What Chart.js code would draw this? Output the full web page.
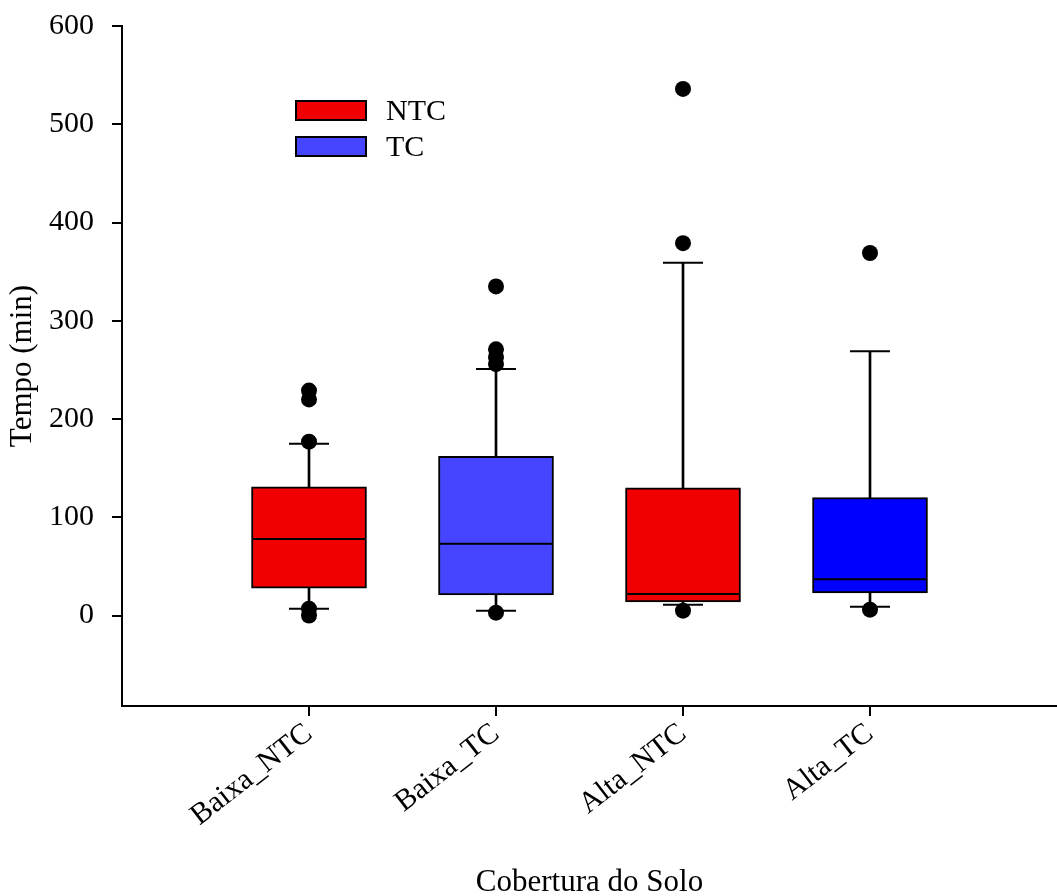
<!DOCTYPE html>
<html lang="pt">
<head>
<meta charset="UTF-8">
<title>Tempo por Cobertura do Solo</title>
<script src="https://cdn.jsdelivr.net/npm/chart.js"></script>
<style>
  body { margin: 0; background: #fff; }
  #wrap { position: relative; width: 1057px; height: 896px; }
  #legend {
    position: absolute; left: 295px; top: 92px;
    font: 30px 'Liberation Serif', 'Times New Roman', serif; color: #000;
  }
  #legend .item { display: flex; align-items: center; height: 36px; line-height: 36px; }
  #legend .sw { width: 68px; height: 17px; border: 2px solid #000; margin-right: 19px; }
</style>
</head>
<body>
<div id="wrap">
  <canvas id="boxChart"></canvas>
  <div id="legend">
    <div class="item"><span class="sw" style="background:#f00000"></span>NTC</div>
    <div class="item"><span class="sw" style="background:#4545ff"></span>TC</div>
  </div>
</div>
<script>
  // box plot summaries per group (tempo em minutos)
  const categories = ['Baixa_NTC', 'Baixa_TC', 'Alta_NTC', 'Alta_TC'];
  const q1 = [28, 21, 14, 23];
  const medians = [78, 73, 22, 37];
  const q3 = [131, 162, 130, 120];
  const whiskerLow = [7, 5, 11, 9];
  const whiskerHigh = [175, 251, 359, 269];
  const outliers = [
    [229, 220, 177, 7, 0],
    [335, 271, 263, 256, 3],
    [536, 379, 5],
    [369, 6]
  ];
  const yTicks = [0, 100, 200, 300, 400, 500, 600];

  const boxFill = {
    Baixa_NTC: '#f00000',
    Baixa_TC: '#4545ff',
    Alta_NTC: '#f00000',
    Alta_TC: '#0000ff'
  };

  const serif = "'Liberation Serif', 'Times New Roman', serif";
  const xOf = i => i + 1;

  const outlierPts = [];
  outliers.forEach((vals, i) => vals.forEach(v => outlierPts.push({x: xOf(i), y: v})));

  const capPts = [];
  categories.forEach((c, i) => {
    capPts.push({x: xOf(i), y: whiskerLow[i]});
    capPts.push({x: xOf(i), y: whiskerHigh[i]});
  });

  const whiskerBars = [];
  categories.forEach((c, i) => {
    whiskerBars.push({x: xOf(i), y: [q3[i], whiskerHigh[i]]});
    whiskerBars.push({x: xOf(i), y: [whiskerLow[i], q1[i]]});
  });

  const axisGrid = {
    offset: false,
    drawOnChartArea: false,
    drawTicks: true,
    tickLength: 10,
    color: '#000',
    lineWidth: 2
  };

  new Chart(document.getElementById('boxChart'), {
    type: 'bar',
    data: {
      datasets: [
        {
          type: 'scatter',
          data: outlierPts,
          pointRadius: 8,
          pointBackgroundColor: '#000',
          pointBorderColor: '#000',
          pointBorderWidth: 0
        },
        {
          type: 'scatter',
          data: medians.map((m, i) => ({x: xOf(i), y: m})),
          pointStyle: 'line',
          pointRadius: 57,
          pointBorderColor: '#000',
          pointBorderWidth: 2
        },
        {
          type: 'scatter',
          data: capPts,
          pointStyle: 'line',
          pointRadius: 20,
          pointBorderColor: '#000',
          pointBorderWidth: 2
        },
        {
          data: categories.map((c, i) => ({x: xOf(i), y: [q1[i], q3[i]]})),
          backgroundColor: categories.map(c => boxFill[c]),
          borderColor: '#000',
          borderWidth: 2,
          borderSkipped: false,
          barThickness: 115,
          grouped: false
        },
        {
          data: whiskerBars,
          backgroundColor: '#000',
          borderWidth: 0,
          barThickness: 2,
          grouped: false
        }
      ]
    },
    options: {
      responsive: true,
      maintainAspectRatio: false,
      animation: false,
      events: [],
      layout: { autoPadding: false, padding: { top: 26, right: 0, left: 0, bottom: 0 } },
      plugins: { legend: { display: false }, tooltip: { enabled: false } },
      scales: {
        x: {
          type: 'linear',
          min: 0,
          max: 5,
          offset: false,
          afterBuildTicks: s => { s.ticks = categories.map((c, i) => ({value: xOf(i)})); },
          afterFit: s => { s.height = 190; },
          ticks: {
            callback: (v, i) => categories[i],
            autoSkip: false,
            minRotation: 38,
            maxRotation: 38,
            padding: 0,
            color: '#000',
            font: { family: serif, size: 30 }
          },
          grid: axisGrid,
          border: { color: '#000', width: 2 },
          title: {
            display: true,
            text: 'Cobertura do Solo',
            color: '#000',
            font: { family: serif, size: 31 },
            padding: { top: 0, bottom: -5 }
          }
        },
        y: {
          min: -92,
          max: 600,
          afterBuildTicks: s => { s.ticks = yTicks.map(v => ({value: v})); },
          afterFit: s => {
            s.width = 122;
            s.paddingTop = 0;
            s.paddingBottom = 0;
          },
          ticks: {
            padding: 18,
            color: '#000',
            font: { family: serif, size: 30 }
          },
          grid: axisGrid,
          border: { color: '#000', width: 2 },
          title: {
            display: true,
            text: 'Tempo (min)',
            color: '#000',
            font: { family: serif, size: 31 },
            padding: { top: 4, bottom: 0 }
          }
        }
      }
    }
  });
</script>
</body>
</html>
